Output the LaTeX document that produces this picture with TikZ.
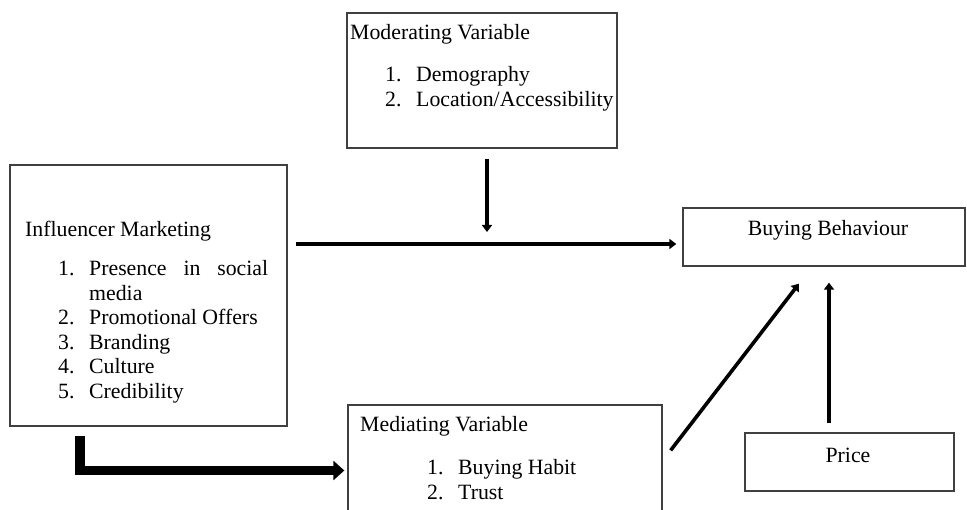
\documentclass[tikz,border=0pt]{standalone}
\usepackage{fontspec}
\setmainfont{Liberation Serif}
\usetikzlibrary{arrows.meta, positioning, calc}

\begin{document}
\begin{tikzpicture}[
    x=1pt, y=-1pt,
    every node/.style={font=\fontsize{21.8}{24.5}\selectfont, inner sep=0pt},
    varbox/.style={rectangle, draw=black!75, line width=1.3pt},
    heading/.style={anchor=base west},
    itemlist/.style={anchor=base west, align=left},
    arrow/.style={-{Triangle[length=7pt, width=10pt]}, line width=3.6pt},
    bigarrow/.style={-{Triangle[length=11pt, width=19pt]}, line width=9.5pt},
]
\useasboundingbox (0,0) rectangle (967,510);
\clip (0,0) rectangle (967,510);

% === BOXES ===
\node[varbox, minimum width=277pt, minimum height=261pt] (infl) at (148.5,295.5) {};
\node[varbox, minimum width=270pt, minimum height=135pt] (mod) at (482,80.5) {};
\node[varbox, minimum width=282pt, minimum height=58pt] (buy) at (824,237) {};
\node[varbox, minimum width=209pt, minimum height=58pt] (price) at (849.5,462) {};
\node[varbox, minimum width=314pt, minimum height=120pt] (med) at (505,465) {};

% === TEXTS ===
\node[heading] (infl_title) at (25,237) {Influencer Marketing};
\node[itemlist] (infl_items) at (58,276) {%
    \begin{tabular}[t]{@{}p{31pt}@{}l@{}}
    1. & \makebox[179pt][s]{Presence in social}\\
       & media\\
    2. & Promotional Offers\\
    3. & Branding\\
    4. & Culture\\
    5. & Credibility
    \end{tabular}};

\node[heading] (mod_title) at (350,40) {Moderating Variable};
\node[itemlist] (mod_items) at (385,82) {%
    \begin{tabular}[t]{@{}p{31pt}@{}l@{}}
    1. & Demography\\
    2. & Location/Accessibility
    \end{tabular}};

\node[heading] (med_title) at (360,432) {Mediating Variable};
\node[itemlist] (med_items) at (427,475) {%
    \begin{tabular}[t]{@{}p{31pt}@{}l@{}}
    1. & Buying Habit\\
    2. & Trust
    \end{tabular}};

\node (buy_text) at (828,230) {Buying Behaviour};
\node (price_text) at (848,455) {Price};

% === ARROWS ===
\coordinate (join) at (487,244);
\draw[arrow, shorten <=10pt, shorten >=12pt] (mod.south -| join) -- (join);
\draw[arrow, shorten <=8pt, shorten >=6pt] (infl.east |- join) -- (buy.west |- join);
\draw[arrow] ([shift={(8,46)}]med.north east) -- ([shift={(-25,17)}]buy.south);
\draw[arrow] ([shift={(-20.5,-9)}]price.north) -- ([shift={(5,16)}]buy.south);
\draw[bigarrow, shorten >=3pt] ([shift={(-68.5,9)}]infl.south) |- ([yshift=-5.5]med.west);

\end{tikzpicture}
\end{document}
